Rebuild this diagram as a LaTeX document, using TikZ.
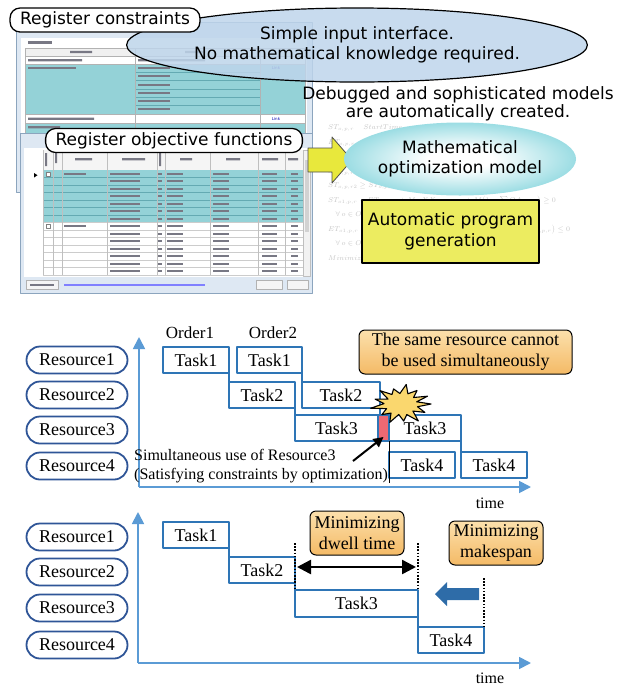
\documentclass[tikz,border=0pt]{standalone}
\usepackage{amsmath,amssymb}
\usepackage{fontspec}
\setmainfont{Liberation Serif}
\setsansfont{DejaVu Sans}
\usetikzlibrary{arrows.meta,shapes.geometric,shapes.misc}
\definecolor{pillblue}{RGB}{47,85,151}
\definecolor{taskblue}{RGB}{46,117,182}
\definecolor{axisblue}{RGB}{91,155,213}
\definecolor{notelight}{RGB}{252,224,172}
\definecolor{notedark}{RGB}{244,186,102}
\definecolor{boomyellow}{RGB}{250,215,110}
\definecolor{clashred}{RGB}{238,105,115}
\definecolor{bubbleblue}{RGB}{190,213,235}
\definecolor{arrowyellow}{RGB}{232,232,60}
\definecolor{boxyellow}{RGB}{236,236,96}
\definecolor{modelteal}{RGB}{72,192,204}
\definecolor{shiftblue}{RGB}{46,108,168}
\definecolor{winframe}{RGB}{140,165,190}
\definecolor{winback}{RGB}{222,232,243}
\definecolor{rowteal}{RGB}{148,210,215}
\definecolor{gridteal}{RGB}{100,170,178}
\definecolor{celltext}{RGB}{120,120,132}
\pgfdeclareradialshading{modelglow}{\pgfpoint{0bp}{0bp}}{color(0bp)=(white); color(7bp)=(white); color(40bp)=(modelteal); color(50bp)=(modelteal)}

\begin{document}
\begin{tikzpicture}[x=1pt, y=-1pt, line join=round]
\useasboundingbox (0,0) rectangle (627,686);
\tikzstyle{pill} = [rounded rectangle, draw=pillblue, line width=1.8pt, fill=white, minimum width=101pt, minimum height=27pt, inner sep=0pt, font=\fontsize{18}{20}\selectfont]
\tikzstyle{task} = [draw=taskblue, line width=2pt, fill=white, minimum height=26pt, inner sep=0pt, outer sep=0pt, font=\fontsize{18}{20}\selectfont]
\tikzstyle{note} = [draw=black, line width=1pt, rounded corners=6pt, top color=notelight, bottom color=notedark, align=center, inner sep=0pt, font=\fontsize{18}{21}\selectfont]
\tikzstyle{timeaxis} = [draw=axisblue, line width=1.8pt, -{Triangle[length=12pt, width=12pt]}]
\tikzstyle{regtag} = [draw=black, line width=1.3pt, rounded corners=10pt, fill=white, minimum height=24pt, inner xsep=10pt, inner ysep=0pt, font=\sffamily\fontsize{17}{19}\selectfont]
\tikzstyle{limitline} = [black, line width=1.6pt, dash pattern=on 1.6pt off 1.6pt]
\tikzstyle{plain} = [font=\fontsize{17}{19}\selectfont]

% constraints window
\draw[winframe, fill=winback] (16,22) rectangle (312,192);
\fill[white] (21,38) rectangle (307,188);
\fill[celltext] (28,41) rectangle (52,44);
\draw[gray!60, fill=gray!12] (25,48) rectangle (305,56);
\fill[rowteal] (25,64) rectangle (305,114);
\fill[rowteal] (25,123) rectangle (305,133);
\draw[gray!60] (25,56) -- (305,56) (25,64) -- (305,64) (25,114) -- (305,114) (25,123) -- (305,123);
\foreach \y in {72,80,89,97,105}
  \draw[gridteal] (135,\y) -- (260,\y);
\foreach \x in {25,135,260,305}
  \draw[gray!60] (\x,48) -- (\x,133);
\fill[celltext] (70,50.8) rectangle (92,53.2) (185,50.8) rectangle (205,53.2);
\fill[celltext] (28,59) rectangle (82,61.4) (138,59) rectangle (205,61.4);
\fill[celltext] (28,67) rectangle (76,69.4);
\foreach \y in {67,75,83.5,92,100,108}
  \fill[celltext] (138,\y) rectangle (170,\y+2.4);
\fill[celltext] (28,117.5) rectangle (94,119.9) (28,126) rectangle (60,128.4);
\node[text=blue!70!black, font=\sffamily\fontsize{4}{4}\selectfont] (lk1) at (276,68) {Link};
\node[text=blue!70!black, font=\sffamily\fontsize{4}{4}\selectfont] (lk2) at (276,119) {Link};

% objective window
\draw[winframe, fill=winback] (20,133) rectangle (312,293);
\fill[white] (24,148) rectangle (308,277);
\fill[gray!8] (43,150) rectangle (303,170);
\fill[rowteal] (43,170) rectangle (303,222.5);
\foreach \y in {177.5,185,...,215}
  \draw[gridteal, line width=0.4pt] (43,\y) -- (303,\y);
\foreach \y in {222.5,230,...,275}
  \draw[gray!40, line width=0.4pt] (43,\y) -- (303,\y);
\foreach \x in {43,53,62,107,157,165,210,258,285,303}
  \draw[gray!50, line width=0.4pt] (\x,150) -- (\x,275);
\foreach \y in {172.5,180,...,270} {
  \fill[celltext] (110,\y) rectangle (140,\y+2.2);
  \fill[celltext] (158,\y) rectangle (162,\y+2.2);
  \fill[celltext] (167,\y) rectangle (183,\y+2.2);
  \fill[celltext] (213,\y) rectangle (229,\y+2.2);
  \fill[celltext] (262,\y) rectangle (277,\y+2.2);
  \fill[celltext] (291,\y) rectangle (298,\y+2.2);
}
\foreach \y in {172,224.5} {
  \draw[gray, fill=white, line width=0.4pt] (46,\y) rectangle (50.5,\y+4);
  \fill[celltext] (64,\y+0.5) rectangle (86,\y+2.7);
}
\fill[celltext] (45,153) rectangle (47,166) (55,153) rectangle (57,163) (75,158) rectangle (92,160.4)
  (122,158) rectangle (145,160.4) (159,153) rectangle (161,166) (180,158) rectangle (192,160.4)
  (226,158) rectangle (240,160.4) (262,158) rectangle (278,160.4) (288,158) rectangle (298,160.4);
\fill (34,173) -- (34,177.5) -- (37.5,175.2) -- cycle;
\draw[gray!50, fill=gray!10] (303,150) rectangle (310,276);
\fill[gray!35] (304.5,160) rectangle (308.5,232);
\draw[gray!60, fill=gray!8] (26,280) rectangle (58,289.5) (256,280) rectangle (282,289.5) (287,280) rectangle (308,289.5);
\fill[celltext] (30,283.8) rectangle (54,286);
\fill[blue!50] (64,283.8) rectangle (205,286);

% faint model text
\node[anchor=north west, align=left, text=gray!45, inner sep=0pt, font=\fontsize{7.5}{14.5}\selectfont] (eqs) at (328,125)
  {$ST_{o,p,r}$ \quad $StartTime$\\
   $ET_{o,p,r}$ \quad $EndTime$\\
   $OA_{o,p,r}$ \quad $Assign$\\
   $ST_{o,p,r1} \le ST_{o,p,r2}$\\
   $ST_{o,p,r2} \ge ST_{o,p,r1}$\\
   $ST_{o1,p,r} - ET_{o2,p,r} + M\cdot XX_{o1,o2,p,r} + M\bigl(1-\sum OA_{o,p,r}\bigr) \ge 0$\\
   \quad $\forall\, o\in Order, p\in Process, r\in Resource$\\
   $ET_{o1,p,r} - ST_{o2,p,r} - M(1-XX_{o1,o2,p,r}) - M\bigl(1-\sum OA_{o,p,r}\bigr) \le 0$\\
   \quad $\forall\, o\in Order, p\in Process, r\in Resource$\\
   $Minimize \sum\sum\sum \omega(ET_{o,p,r}-ST_{o,p,r}) \cdots etc.$};

\node[ellipse, draw, line width=1.2pt, fill=bubbleblue, fill opacity=0.85, text opacity=1, minimum width=363pt, minimum height=74pt, inner sep=0pt, align=center, font=\sffamily\fontsize{17}{20}\selectfont] (easy) at (357,45) {Simple input interface.\\No mathematical knowledge required.};
\node[regtag] (cons) at (105,20) {Register constraints};
\node[regtag] (obj) at (174,140.5) {Register objective functions};
\node[align=center, font=\sffamily\fontsize{17}{18}\selectfont] (auto) at (458,104) {Debugged and sophisticated models\\are automatically created.};
\draw[gray!60!black, fill=arrowyellow, line width=0.8pt] (308,148) -- (332,148) -- (332,137) -- (352,160) -- (332,183) -- (332,172) -- (308,172) -- cycle;
\node[ellipse, shading=modelglow, minimum width=210pt, minimum height=73pt, inner sep=0pt, align=center, font=\sffamily\fontsize{17}{20}\selectfont] (model) at (460,159) {Mathematical\\optimization model};
\node[draw, line width=1.2pt, fill=boxyellow, minimum width=177pt, minimum height=63pt, align=center, font=\sffamily\fontsize{17}{21}\selectfont] (gen) at (450.5,231.5) {Automatic program\\generation};

% schedule with a clash
\node[pill] (ra1) at (77,360) {Resource1};
\node[pill] (ra2) at (77,395) {Resource2};
\node[pill] (ra3) at (77,430) {Resource3};
\node[pill] (ra4) at (77,466) {Resource4};
\coordinate (ao) at (139,487);
\coordinate (ay) at (139,337);
\coordinate (ax) at (531,487);
\draw[timeaxis] (ao) -- (ay);
\draw[timeaxis] (ao) -- (ax);
\node[font=\fontsize{16}{18}\selectfont] (ta) at (490,503) {time};
\node[plain] (ord1) at (190,333) {Order1};
\node[plain] (ord2) at (273,333) {Order2};
\node[task, minimum width=66pt] (a11) at (196,360) {Task1};
\node[task, minimum width=65pt] (a21) at (269.5,360) {Task1};
\node[task, minimum width=66pt] (a12) at (262,395) {Task2};
\node[task, minimum width=78pt] (a22) at (341,395) {Task2};
\node[task, minimum width=83pt] (a13) at (336.5,428) {Task3};
\node[task, minimum width=72pt] (a23) at (425,428) {Task3};
\node[task, minimum width=66pt] (a14) at (422,465) {Task4};
\node[task, minimum width=66pt] (a24) at (494,465) {Task4};
\node[task, fill=clashred, minimum width=11pt] (clash) at (383.5,428) {};
\draw[taskblue, line width=2pt] (a11.south east) -- (a12.north west);
\draw[taskblue, line width=2pt] (a12.south east) -- (a13.north west);
\draw[taskblue, line width=2pt] (a21.south east) -- (a22.north west);
\draw[taskblue, line width=2pt] (a22.south east) -- (a22.south east |- clash.north);
\draw[taskblue, line width=2pt] (a23.south east) -- (a24.north west);
\draw[shift={(401,404)}, yscale=0.66, fill=boomyellow, line width=1.1pt]
  (0:30) -- (14:17) -- (28:27) -- (42:16) -- (56:31) -- (70:17) -- (84:26) -- (98:16) -- (112:30)
  -- (126:17) -- (140:25) -- (154:16) -- (168:31) -- (182:17) -- (196:27) -- (210:15) -- (224:29)
  -- (238:17) -- (252:24) -- (266:16) -- (280:30) -- (294:17) -- (308:26) -- (322:16) -- (336:29)
  -- (348:16) -- cycle;
\node[note, minimum width=213pt, minimum height=44pt] (clashnote) at (465.5,352) {The same resource cannot\\be used simultaneously};
\node[anchor=west, align=left, inner sep=1pt, font=\fontsize{16}{19}\selectfont] (why) at (133,466) {Simultaneous use of Resource3\\(Satisfying constraints by optimization)};
\coordinate (sp) at (353,461);
\draw[line width=2pt, -{Triangle[length=10pt, width=10pt]}] (sp) -- ([yshift=4pt]clash.south);
\draw[line width=1pt] (clash.south east) -- ([yshift=4pt]clash.south east |- ao);

% schedule after optimization
\node[pill] (rb1) at (77,537) {Resource1};
\node[pill] (rb2) at (77,572) {Resource2};
\node[pill] (rb3) at (77,608) {Resource3};
\node[pill] (rb4) at (77,645) {Resource4};
\coordinate (bo) at (138,663);
\coordinate (by) at (138,512);
\coordinate (bx) at (531,663);
\draw[timeaxis] (bo) -- (by);
\draw[timeaxis] (bo) -- (bx);
\node[font=\fontsize{16}{18}\selectfont] (tb) at (490,678) {time};
\node[task, minimum width=66pt] (b1) at (196,535) {Task1};
\node[task, minimum width=66pt] (b2) at (262,570) {Task2};
\node[task, minimum width=123pt, minimum height=27pt] (b3) at (356.5,603.5) {Task3};
\node[task, minimum width=66pt] (b4) at (451,640) {Task4};
\draw[taskblue, line width=2pt] (b1.south east) -- (b2.north west);
\draw[taskblue, line width=2pt] (b2.south east) -- (b3.north west);
\draw[taskblue, line width=2pt] (b3.south east) -- (b4.north west);
\coordinate (d1) at (295,543);
\coordinate (d2) at (418,543);
\coordinate (d3) at (484,578);
\draw[limitline] (d1) -- (b3.north west);
\draw[limitline] (d2) -- (b3.north east);
\draw[limitline] (d3) -- (b4.north east);
\coordinate (dw1) at (297,567);
\coordinate (dw2) at (416,567);
\draw[line width=2.5pt, {Triangle[length=14pt, width=14pt]}-{Triangle[length=14pt, width=14pt]}] (dw1) -- (dw2);
\node[note, minimum width=94pt, minimum height=44pt] (dwell) at (357,533) {Minimizing\\dwell time};
\node[note, minimum width=94pt, minimum height=44pt] (span) at (496,543) {Minimizing\\makespan};
\fill[shiftblue] (479,588) -- (447,588) -- (447,582) -- (435,594) -- (447,606) -- (447,600) -- (479,600) -- cycle;
\end{tikzpicture}
\end{document}
